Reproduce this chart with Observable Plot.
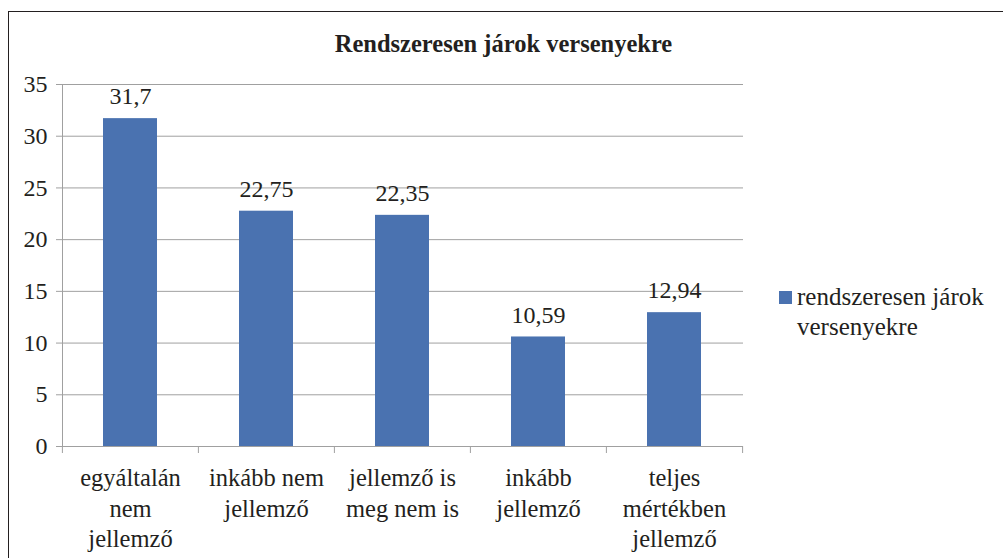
<!DOCTYPE html>
<html>
<head>
<meta charset="utf-8">
<script src="https://cdn.jsdelivr.net/npm/d3@7"></script>
<script src="https://cdn.jsdelivr.net/npm/@observablehq/plot@0.6"></script>
<style>
  body { margin: 0; background: #fff; }
  #wrap { position: relative; width: 1003px; height: 558px; overflow: hidden; font-family: "Liberation Serif", serif; color: #231f20; }
  #frame { position: absolute; left: 8px; top: 11px; width: 1100px; height: 700px; border: 1.5px solid #231f20; box-sizing: border-box; }
  #title { position: absolute; left: 8px; width: 991px; top: 29px; text-align: center; font-weight: bold; font-size: 24.5px; line-height: 30px; font-family: "Liberation Serif", serif; }
  #chart { position: absolute; left: 0; top: 0; }
  #legend { position: absolute; left: 779px; top: 282px; font-size: 25px; line-height: 30px; font-family: "Liberation Serif", serif; }
  #legend .sw { position: absolute; left: 0; top: 9px; width: 13px; height: 13px; }
  #legend .lbl { position: absolute; left: 18px; top: 0; white-space: nowrap; }
</style>
</head>
<body>
<div id="wrap">
  <div id="frame"></div>
  <div id="title"></div>
  <div id="chart"></div>
  <div id="legend"><div class="sw"></div><div class="lbl"></div></div>
</div>
<script>
const chartTitle = "Rendszeresen járok versenyekre";
const seriesName = "rendszeresen járok versenyekre";
const seriesLegendLines = ["rendszeresen járok", "versenyekre"];
const categories = ["egyáltalán nem jellemző", "inkább nem jellemző", "jellemző is meg nem is", "inkább jellemző", "teljes mértékben jellemző"];
const tickLabels = ["egyáltalán\nnem\njellemző", "inkább nem\njellemző", "jellemző is\nmeg nem is", "inkább\njellemző", "teljes\nmértékben\njellemző"];
const values = [31.7, 22.75, 22.35, 10.59, 12.94];
const valueLabels = ["31,7", "22,75", "22,35", "10,59", "12,94"];
const yTicks = [0, 5, 10, 15, 20, 25, 30, 35];

const barColor = "#4a72b0";
const gridColor = "#a0a0a0";
const textColor = "#231f20";
const fontFamily = "'Liberation Serif', serif";

const data = categories.map((c, i) => ({category: c, value: values[i], label: valueLabels[i]}));

const W = 1003, H = 558, mL = 62, mR = 260, mT = 84, mB = 112;
const step = (W - mL - mR) / categories.length;
const plotH = H - mT - mB;

const chart = Plot.plot({
  width: W, height: H,
  marginLeft: mL, marginRight: mR, marginTop: mT, marginBottom: mB,
  style: {fontFamily, fontSize: "24px", color: textColor, background: "transparent", overflow: "visible"},
  x: {domain: categories, paddingInner: 0.6, paddingOuter: 0.3},
  y: {domain: [0, 35]},
  marks: [
    Plot.gridY(yTicks, {stroke: gridColor, strokeOpacity: 1, strokeWidth: 1}),
    Plot.frame({anchor: "left", stroke: gridColor, strokeWidth: 1}),
    Plot.axisY(yTicks, {tickSize: 6, tickPadding: 9, stroke: gridColor, strokeOpacity: 1, label: null, fontSize: 24, fontFamily, fill: textColor}),
    Plot.barY(data, {x: "category", y: "value", fill: barColor}),
    Plot.text(data, {x: "category", y: "value", text: "label", dy: -22, fontSize: 24, fontFamily, fill: textColor}),
    Plot.axisX({tickSize: 0, tickPadding: 18, tickFormat: (d) => tickLabels[categories.indexOf(d)], lineHeight: 1.25, label: null, fontSize: 24.5, fontFamily, fill: textColor}),
    Plot.ruleX(categories, {x: d => d, dx: -step / 2, insetTop: plotH, insetBottom: -7, stroke: gridColor}),
    Plot.ruleX([categories[categories.length - 1]], {x: d => d, dx: step / 2, insetTop: plotH, insetBottom: -7, stroke: gridColor})
  ]
});
document.getElementById("chart").appendChild(chart);
document.getElementById("title").textContent = chartTitle;
document.querySelector("#legend .sw").style.background = barColor;
document.querySelector("#legend .lbl").innerHTML = seriesLegendLines.map(s => s.replace(/&/g, "&amp;")).join("<br>");
document.querySelector("#legend").setAttribute("aria-label", seriesName);
</script>
</body>
</html>
